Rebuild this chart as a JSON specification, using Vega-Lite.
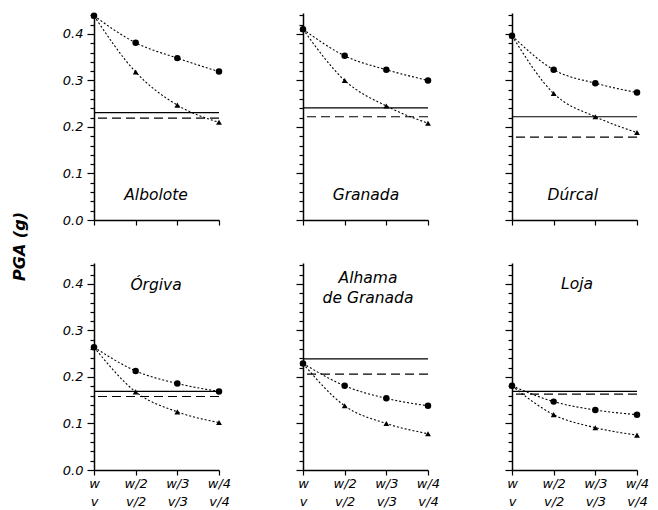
{
  "$schema": "https://vega.github.io/schema/vega-lite/v6.json",
  "padding": {"left": 11, "top": 9, "right": 5, "bottom": 2},
  "background": "white",
  "config": {
    "view": {"stroke": null},
    "axis": {
      "grid": false, "domainColor": "black", "tickColor": "black", "domainWidth": 1.5, "tickWidth": 1.2,
      "labelColor": "black", "labelFont": "DejaVu Sans", "labelFontStyle": "italic", "labelFontSize": 13,
      "labelFlush": false, "labelOverlap": false, "title": null
    }
  },
  "datasets": {
    "pts": [
      {"site": "Albolote", "series": "triangle", "xi": 0, "pga": 0.439},
      {"site": "Albolote", "series": "triangle", "xi": 1, "pga": 0.318},
      {"site": "Albolote", "series": "triangle", "xi": 2, "pga": 0.247},
      {"site": "Albolote", "series": "triangle", "xi": 3, "pga": 0.210},
      {"site": "Albolote", "series": "circle", "xi": 0, "pga": 0.439},
      {"site": "Albolote", "series": "circle", "xi": 1, "pga": 0.381},
      {"site": "Albolote", "series": "circle", "xi": 2, "pga": 0.348},
      {"site": "Albolote", "series": "circle", "xi": 3, "pga": 0.319},
      {"site": "Granada", "series": "triangle", "xi": 0, "pga": 0.410},
      {"site": "Granada", "series": "triangle", "xi": 1, "pga": 0.300},
      {"site": "Granada", "series": "triangle", "xi": 2, "pga": 0.245},
      {"site": "Granada", "series": "triangle", "xi": 3, "pga": 0.208},
      {"site": "Granada", "series": "circle", "xi": 0, "pga": 0.410},
      {"site": "Granada", "series": "circle", "xi": 1, "pga": 0.353},
      {"site": "Granada", "series": "circle", "xi": 2, "pga": 0.323},
      {"site": "Granada", "series": "circle", "xi": 3, "pga": 0.300},
      {"site": "Dúrcal", "series": "triangle", "xi": 0, "pga": 0.396},
      {"site": "Dúrcal", "series": "triangle", "xi": 1, "pga": 0.272},
      {"site": "Dúrcal", "series": "triangle", "xi": 2, "pga": 0.222},
      {"site": "Dúrcal", "series": "triangle", "xi": 3, "pga": 0.188},
      {"site": "Dúrcal", "series": "circle", "xi": 0, "pga": 0.396},
      {"site": "Dúrcal", "series": "circle", "xi": 1, "pga": 0.323},
      {"site": "Dúrcal", "series": "circle", "xi": 2, "pga": 0.294},
      {"site": "Dúrcal", "series": "circle", "xi": 3, "pga": 0.274},
      {"site": "Órgiva", "series": "triangle", "xi": 0, "pga": 0.264},
      {"site": "Órgiva", "series": "triangle", "xi": 1, "pga": 0.168},
      {"site": "Órgiva", "series": "triangle", "xi": 2, "pga": 0.125},
      {"site": "Órgiva", "series": "triangle", "xi": 3, "pga": 0.102},
      {"site": "Órgiva", "series": "circle", "xi": 0, "pga": 0.264},
      {"site": "Órgiva", "series": "circle", "xi": 1, "pga": 0.213},
      {"site": "Órgiva", "series": "circle", "xi": 2, "pga": 0.186},
      {"site": "Órgiva", "series": "circle", "xi": 3, "pga": 0.169},
      {"site": "Alhama de Granada", "series": "triangle", "xi": 0, "pga": 0.229},
      {"site": "Alhama de Granada", "series": "triangle", "xi": 1, "pga": 0.138},
      {"site": "Alhama de Granada", "series": "triangle", "xi": 2, "pga": 0.100},
      {"site": "Alhama de Granada", "series": "triangle", "xi": 3, "pga": 0.078},
      {"site": "Alhama de Granada", "series": "circle", "xi": 0, "pga": 0.229},
      {"site": "Alhama de Granada", "series": "circle", "xi": 1, "pga": 0.181},
      {"site": "Alhama de Granada", "series": "circle", "xi": 2, "pga": 0.154},
      {"site": "Alhama de Granada", "series": "circle", "xi": 3, "pga": 0.138},
      {"site": "Loja", "series": "triangle", "xi": 0, "pga": 0.181},
      {"site": "Loja", "series": "triangle", "xi": 1, "pga": 0.119},
      {"site": "Loja", "series": "triangle", "xi": 2, "pga": 0.091},
      {"site": "Loja", "series": "triangle", "xi": 3, "pga": 0.075},
      {"site": "Loja", "series": "circle", "xi": 0, "pga": 0.181},
      {"site": "Loja", "series": "circle", "xi": 1, "pga": 0.147},
      {"site": "Loja", "series": "circle", "xi": 2, "pga": 0.129},
      {"site": "Loja", "series": "circle", "xi": 3, "pga": 0.119}
    ],
    "refs": [
      {"site": "Albolote", "kind": "solid", "pga": 0.231},
      {"site": "Albolote", "kind": "dashed", "pga": 0.219},
      {"site": "Granada", "kind": "solid", "pga": 0.241},
      {"site": "Granada", "kind": "dashed", "pga": 0.222},
      {"site": "Dúrcal", "kind": "solid", "pga": 0.222},
      {"site": "Dúrcal", "kind": "dashed", "pga": 0.178},
      {"site": "Órgiva", "kind": "solid", "pga": 0.169},
      {"site": "Órgiva", "kind": "dashed", "pga": 0.158},
      {"site": "Alhama de Granada", "kind": "solid", "pga": 0.239},
      {"site": "Alhama de Granada", "kind": "dashed", "pga": 0.206},
      {"site": "Loja", "kind": "solid", "pga": 0.169},
      {"site": "Loja", "kind": "dashed", "pga": 0.163}
    ],
    "sites": [
      {"site": "Albolote", "label": ["Albolote"]},
      {"site": "Granada", "label": ["Granada"]},
      {"site": "Dúrcal", "label": ["Dúrcal"]},
      {"site": "Órgiva", "label": ["Órgiva"]},
      {"site": "Alhama de Granada", "label": ["Alhama", "de Granada"]},
      {"site": "Loja", "label": ["Loja"]}
    ]
  },
  "columns": 3,
  "spacing": {"row": 43, "column": 84},
  "bounds": "flush",
  "concat": [
    {
      "width": 125, "height": 207,
      "layer": [
        {"data": {"name": "refs"}, "transform": [{"filter": "datum.site === 'Albolote'"}],
         "mark": {"type": "rule", "color": "black", "strokeWidth": 1.2},
         "encoding": {
           "y": {"field": "pga", "type": "quantitative", "scale": {"domain": [0, 0.445], "nice": false, "zero": false},
             "axis": {"values": [0,0.02,0.04,0.06,0.08,0.1,0.12,0.14,0.16,0.18,0.2,0.22,0.24,0.26,0.28,0.3,0.32,0.34,0.36,0.38,0.4,0.42,0.44],
               "tickCount": 40, "labelOverlap": false,
               "labelExpr": "abs(datum.value*10 - round(datum.value*10)) < 0.001 ? format(datum.value, '.1f') : ''",
               "tickSize": {"condition": {"test": "abs(datum.value*10 - round(datum.value*10)) < 0.001", "value": 7}, "value": 4},
               "labelPadding": 4,
               "title": "PGA (g)", "titleX": -75, "titleY": 233, "titleAngle": 270, "titleAlign": "center", "titleBaseline": "middle",
               "titleFont": "DejaVu Sans", "titleFontWeight": "bold", "titleFontStyle": "italic", "titleFontSize": 16, "titleColor": "black"}},
           "strokeDash": {"field": "kind", "type": "nominal", "scale": {"domain": ["solid", "dashed"], "range": [[1, 0], [9, 5]]}, "legend": null}
         }},
        {"data": {"name": "pts"}, "transform": [{"filter": "datum.site === 'Albolote'"}],
         "mark": {"type": "line", "interpolate": "monotone", "strokeDash": [2, 2], "color": "black", "strokeWidth": 1.1},
         "encoding": {
           "x": {"field": "xi", "type": "quantitative", "scale": {"domain": [0, 3], "nice": false},
             "axis": {"values": [0, 1, 2, 3], "tickCount": 10, "tickSize": 5, "labels": false}},
           "y": {"field": "pga", "type": "quantitative"},
           "detail": {"field": "series"}
         }},
        {"data": {"name": "pts"}, "transform": [{"filter": "datum.site === 'Albolote'"}],
         "mark": {"type": "point", "filled": true, "color": "black", "opacity": 1},
         "encoding": {
           "x": {"field": "xi", "type": "quantitative"},
           "y": {"field": "pga", "type": "quantitative"},
           "shape": {"field": "series", "type": "nominal", "scale": {"domain": ["triangle", "circle"], "range": ["triangle-up", "circle"]}, "legend": null},
           "size": {"field": "series", "type": "nominal", "scale": {"domain": ["triangle", "circle"], "range": [34, 42]}, "legend": null}
         }},
        {"data": {"name": "sites"}, "transform": [{"filter": "datum.site === 'Albolote'"}],
         "mark": {"type": "text", "font": "DejaVu Sans", "fontStyle": "italic", "fontSize": 15.5, "baseline": "alphabetic", "color": "black"},
         "encoding": {
           "x": {"datum": 1.49, "type": "quantitative"},
           "y": {"datum": 0.043, "type": "quantitative"},
           "text": {"field": "label"}
         }}
      ]
    },
    {
      "width": 125, "height": 207,
      "layer": [
        {"data": {"name": "refs"}, "transform": [{"filter": "datum.site === 'Granada'"}],
         "mark": {"type": "rule", "color": "black", "strokeWidth": 1.2},
         "encoding": {
           "y": {"field": "pga", "type": "quantitative", "scale": {"domain": [0, 0.445], "nice": false, "zero": false},
             "axis": {"values": [0,0.02,0.04,0.06,0.08,0.1,0.12,0.14,0.16,0.18,0.2,0.22,0.24,0.26,0.28,0.3,0.32,0.34,0.36,0.38,0.4,0.42,0.44],
               "tickCount": 40, "labels": false,
               "tickSize": {"condition": {"test": "abs(datum.value*10 - round(datum.value*10)) < 0.001", "value": 7}, "value": 4}}},
           "strokeDash": {"field": "kind", "type": "nominal", "scale": {"domain": ["solid", "dashed"], "range": [[1, 0], [9, 5]]}, "legend": null}
         }},
        {"data": {"name": "pts"}, "transform": [{"filter": "datum.site === 'Granada'"}],
         "mark": {"type": "line", "interpolate": "monotone", "strokeDash": [2, 2], "color": "black", "strokeWidth": 1.1},
         "encoding": {
           "x": {"field": "xi", "type": "quantitative", "scale": {"domain": [0, 3], "nice": false},
             "axis": {"values": [0, 1, 2, 3], "tickCount": 10, "tickSize": 5, "labels": false}},
           "y": {"field": "pga", "type": "quantitative"},
           "detail": {"field": "series"}
         }},
        {"data": {"name": "pts"}, "transform": [{"filter": "datum.site === 'Granada'"}],
         "mark": {"type": "point", "filled": true, "color": "black", "opacity": 1},
         "encoding": {
           "x": {"field": "xi", "type": "quantitative"},
           "y": {"field": "pga", "type": "quantitative"},
           "shape": {"field": "series", "type": "nominal", "scale": {"domain": ["triangle", "circle"], "range": ["triangle-up", "circle"]}, "legend": null},
           "size": {"field": "series", "type": "nominal", "scale": {"domain": ["triangle", "circle"], "range": [34, 42]}, "legend": null}
         }},
        {"data": {"name": "sites"}, "transform": [{"filter": "datum.site === 'Granada'"}],
         "mark": {"type": "text", "font": "DejaVu Sans", "fontStyle": "italic", "fontSize": 15.5, "baseline": "alphabetic", "color": "black"},
         "encoding": {
           "x": {"datum": 1.51, "type": "quantitative"},
           "y": {"datum": 0.043, "type": "quantitative"},
           "text": {"field": "label"}
         }}
      ]
    },
    {
      "width": 125, "height": 207,
      "layer": [
        {"data": {"name": "refs"}, "transform": [{"filter": "datum.site === 'Dúrcal'"}],
         "mark": {"type": "rule", "color": "black", "strokeWidth": 1.2},
         "encoding": {
           "y": {"field": "pga", "type": "quantitative", "scale": {"domain": [0, 0.445], "nice": false, "zero": false},
             "axis": {"values": [0,0.02,0.04,0.06,0.08,0.1,0.12,0.14,0.16,0.18,0.2,0.22,0.24,0.26,0.28,0.3,0.32,0.34,0.36,0.38,0.4,0.42,0.44],
               "tickCount": 40, "labels": false,
               "tickSize": {"condition": {"test": "abs(datum.value*10 - round(datum.value*10)) < 0.001", "value": 7}, "value": 4}}},
           "strokeDash": {"field": "kind", "type": "nominal", "scale": {"domain": ["solid", "dashed"], "range": [[1, 0], [9, 5]]}, "legend": null}
         }},
        {"data": {"name": "pts"}, "transform": [{"filter": "datum.site === 'Dúrcal'"}],
         "mark": {"type": "line", "interpolate": "monotone", "strokeDash": [2, 2], "color": "black", "strokeWidth": 1.1},
         "encoding": {
           "x": {"field": "xi", "type": "quantitative", "scale": {"domain": [0, 3], "nice": false},
             "axis": {"values": [0, 1, 2, 3], "tickCount": 10, "tickSize": 5, "labels": false}},
           "y": {"field": "pga", "type": "quantitative"},
           "detail": {"field": "series"}
         }},
        {"data": {"name": "pts"}, "transform": [{"filter": "datum.site === 'Dúrcal'"}],
         "mark": {"type": "point", "filled": true, "color": "black", "opacity": 1},
         "encoding": {
           "x": {"field": "xi", "type": "quantitative"},
           "y": {"field": "pga", "type": "quantitative"},
           "shape": {"field": "series", "type": "nominal", "scale": {"domain": ["triangle", "circle"], "range": ["triangle-up", "circle"]}, "legend": null},
           "size": {"field": "series", "type": "nominal", "scale": {"domain": ["triangle", "circle"], "range": [34, 42]}, "legend": null}
         }},
        {"data": {"name": "sites"}, "transform": [{"filter": "datum.site === 'Dúrcal'"}],
         "mark": {"type": "text", "font": "DejaVu Sans", "fontStyle": "italic", "fontSize": 15.5, "baseline": "alphabetic", "color": "black"},
         "encoding": {
           "x": {"datum": 1.46, "type": "quantitative"},
           "y": {"datum": 0.043, "type": "quantitative"},
           "text": {"field": "label"}
         }}
      ]
    },
    {
      "width": 125, "height": 207,
      "layer": [
        {"data": {"name": "refs"}, "transform": [{"filter": "datum.site === 'Órgiva'"}],
         "mark": {"type": "rule", "color": "black", "strokeWidth": 1.2},
         "encoding": {
           "y": {"field": "pga", "type": "quantitative", "scale": {"domain": [0, 0.445], "nice": false, "zero": false},
             "axis": {"values": [0,0.02,0.04,0.06,0.08,0.1,0.12,0.14,0.16,0.18,0.2,0.22,0.24,0.26,0.28,0.3,0.32,0.34,0.36,0.38,0.4,0.42,0.44],
               "tickCount": 40, "labelOverlap": false,
               "labelExpr": "abs(datum.value*10 - round(datum.value*10)) < 0.001 ? format(datum.value, '.1f') : ''",
               "tickSize": {"condition": {"test": "abs(datum.value*10 - round(datum.value*10)) < 0.001", "value": 7}, "value": 4},
               "labelPadding": 4}},
           "strokeDash": {"field": "kind", "type": "nominal", "scale": {"domain": ["solid", "dashed"], "range": [[1, 0], [9, 5]]}, "legend": null}
         }},
        {"data": {"name": "pts"}, "transform": [{"filter": "datum.site === 'Órgiva'"}],
         "mark": {"type": "line", "interpolate": "monotone", "strokeDash": [2, 2], "color": "black", "strokeWidth": 1.1},
         "encoding": {
           "x": {"field": "xi", "type": "quantitative", "scale": {"domain": [0, 3], "nice": false},
             "axis": {"values": [0, 1, 2, 3], "tickCount": 10, "tickSize": 5, "labelPadding": 2, "labelLineHeight": 18,
               "labelExpr": "[['w','v'],['w/2','v/2'],['w/3','v/3'],['w/4','v/4']][datum.value]"}},
           "y": {"field": "pga", "type": "quantitative"},
           "detail": {"field": "series"}
         }},
        {"data": {"name": "pts"}, "transform": [{"filter": "datum.site === 'Órgiva'"}],
         "mark": {"type": "point", "filled": true, "color": "black", "opacity": 1},
         "encoding": {
           "x": {"field": "xi", "type": "quantitative"},
           "y": {"field": "pga", "type": "quantitative"},
           "shape": {"field": "series", "type": "nominal", "scale": {"domain": ["triangle", "circle"], "range": ["triangle-up", "circle"]}, "legend": null},
           "size": {"field": "series", "type": "nominal", "scale": {"domain": ["triangle", "circle"], "range": [34, 42]}, "legend": null}
         }},
        {"data": {"name": "sites"}, "transform": [{"filter": "datum.site === 'Órgiva'"}],
         "mark": {"type": "text", "font": "DejaVu Sans", "fontStyle": "italic", "fontSize": 15.5, "baseline": "alphabetic", "color": "black"},
         "encoding": {
           "x": {"datum": 1.49, "type": "quantitative"},
           "y": {"datum": 0.388, "type": "quantitative"},
           "text": {"field": "label"}
         }}
      ]
    },
    {
      "width": 125, "height": 207,
      "layer": [
        {"data": {"name": "refs"}, "transform": [{"filter": "datum.site === 'Alhama de Granada'"}],
         "mark": {"type": "rule", "color": "black", "strokeWidth": 1.2},
         "encoding": {
           "y": {"field": "pga", "type": "quantitative", "scale": {"domain": [0, 0.445], "nice": false, "zero": false},
             "axis": {"values": [0,0.02,0.04,0.06,0.08,0.1,0.12,0.14,0.16,0.18,0.2,0.22,0.24,0.26,0.28,0.3,0.32,0.34,0.36,0.38,0.4,0.42,0.44],
               "tickCount": 40, "labels": false,
               "tickSize": {"condition": {"test": "abs(datum.value*10 - round(datum.value*10)) < 0.001", "value": 7}, "value": 4}}},
           "strokeDash": {"field": "kind", "type": "nominal", "scale": {"domain": ["solid", "dashed"], "range": [[1, 0], [9, 5]]}, "legend": null}
         }},
        {"data": {"name": "pts"}, "transform": [{"filter": "datum.site === 'Alhama de Granada'"}],
         "mark": {"type": "line", "interpolate": "monotone", "strokeDash": [2, 2], "color": "black", "strokeWidth": 1.1},
         "encoding": {
           "x": {"field": "xi", "type": "quantitative", "scale": {"domain": [0, 3], "nice": false},
             "axis": {"values": [0, 1, 2, 3], "tickCount": 10, "tickSize": 5, "labelPadding": 2, "labelLineHeight": 18,
               "labelExpr": "[['w','v'],['w/2','v/2'],['w/3','v/3'],['w/4','v/4']][datum.value]"}},
           "y": {"field": "pga", "type": "quantitative"},
           "detail": {"field": "series"}
         }},
        {"data": {"name": "pts"}, "transform": [{"filter": "datum.site === 'Alhama de Granada'"}],
         "mark": {"type": "point", "filled": true, "color": "black", "opacity": 1},
         "encoding": {
           "x": {"field": "xi", "type": "quantitative"},
           "y": {"field": "pga", "type": "quantitative"},
           "shape": {"field": "series", "type": "nominal", "scale": {"domain": ["triangle", "circle"], "range": ["triangle-up", "circle"]}, "legend": null},
           "size": {"field": "series", "type": "nominal", "scale": {"domain": ["triangle", "circle"], "range": [34, 42]}, "legend": null}
         }},
        {"data": {"name": "sites"}, "transform": [{"filter": "datum.site === 'Alhama de Granada'"}],
         "mark": {"type": "text", "font": "DejaVu Sans", "fontStyle": "italic", "fontSize": 15.5, "baseline": "alphabetic", "lineHeight": 20, "color": "black"},
         "encoding": {
           "x": {"datum": 1.56, "type": "quantitative"},
           "y": {"datum": 0.402, "type": "quantitative"},
           "text": {"field": "label"}
         }}
      ]
    },
    {
      "width": 125, "height": 207,
      "layer": [
        {"data": {"name": "refs"}, "transform": [{"filter": "datum.site === 'Loja'"}],
         "mark": {"type": "rule", "color": "black", "strokeWidth": 1.2},
         "encoding": {
           "y": {"field": "pga", "type": "quantitative", "scale": {"domain": [0, 0.445], "nice": false, "zero": false},
             "axis": {"values": [0,0.02,0.04,0.06,0.08,0.1,0.12,0.14,0.16,0.18,0.2,0.22,0.24,0.26,0.28,0.3,0.32,0.34,0.36,0.38,0.4,0.42,0.44],
               "tickCount": 40, "labels": false,
               "tickSize": {"condition": {"test": "abs(datum.value*10 - round(datum.value*10)) < 0.001", "value": 7}, "value": 4}}},
           "strokeDash": {"field": "kind", "type": "nominal", "scale": {"domain": ["solid", "dashed"], "range": [[1, 0], [9, 5]]}, "legend": null}
         }},
        {"data": {"name": "pts"}, "transform": [{"filter": "datum.site === 'Loja'"}],
         "mark": {"type": "line", "interpolate": "monotone", "strokeDash": [2, 2], "color": "black", "strokeWidth": 1.1},
         "encoding": {
           "x": {"field": "xi", "type": "quantitative", "scale": {"domain": [0, 3], "nice": false},
             "axis": {"values": [0, 1, 2, 3], "tickCount": 10, "tickSize": 5, "labelPadding": 2, "labelLineHeight": 18,
               "labelExpr": "[['w','v'],['w/2','v/2'],['w/3','v/3'],['w/4','v/4']][datum.value]"}},
           "y": {"field": "pga", "type": "quantitative"},
           "detail": {"field": "series"}
         }},
        {"data": {"name": "pts"}, "transform": [{"filter": "datum.site === 'Loja'"}],
         "mark": {"type": "point", "filled": true, "color": "black", "opacity": 1},
         "encoding": {
           "x": {"field": "xi", "type": "quantitative"},
           "y": {"field": "pga", "type": "quantitative"},
           "shape": {"field": "series", "type": "nominal", "scale": {"domain": ["triangle", "circle"], "range": ["triangle-up", "circle"]}, "legend": null},
           "size": {"field": "series", "type": "nominal", "scale": {"domain": ["triangle", "circle"], "range": [34, 42]}, "legend": null}
         }},
        {"data": {"name": "sites"}, "transform": [{"filter": "datum.site === 'Loja'"}],
         "mark": {"type": "text", "font": "DejaVu Sans", "fontStyle": "italic", "fontSize": 15.5, "baseline": "alphabetic", "color": "black"},
         "encoding": {
           "x": {"datum": 1.56, "type": "quantitative"},
           "y": {"datum": 0.389, "type": "quantitative"},
           "text": {"field": "label"}
         }}
      ]
    }
  ]
}
